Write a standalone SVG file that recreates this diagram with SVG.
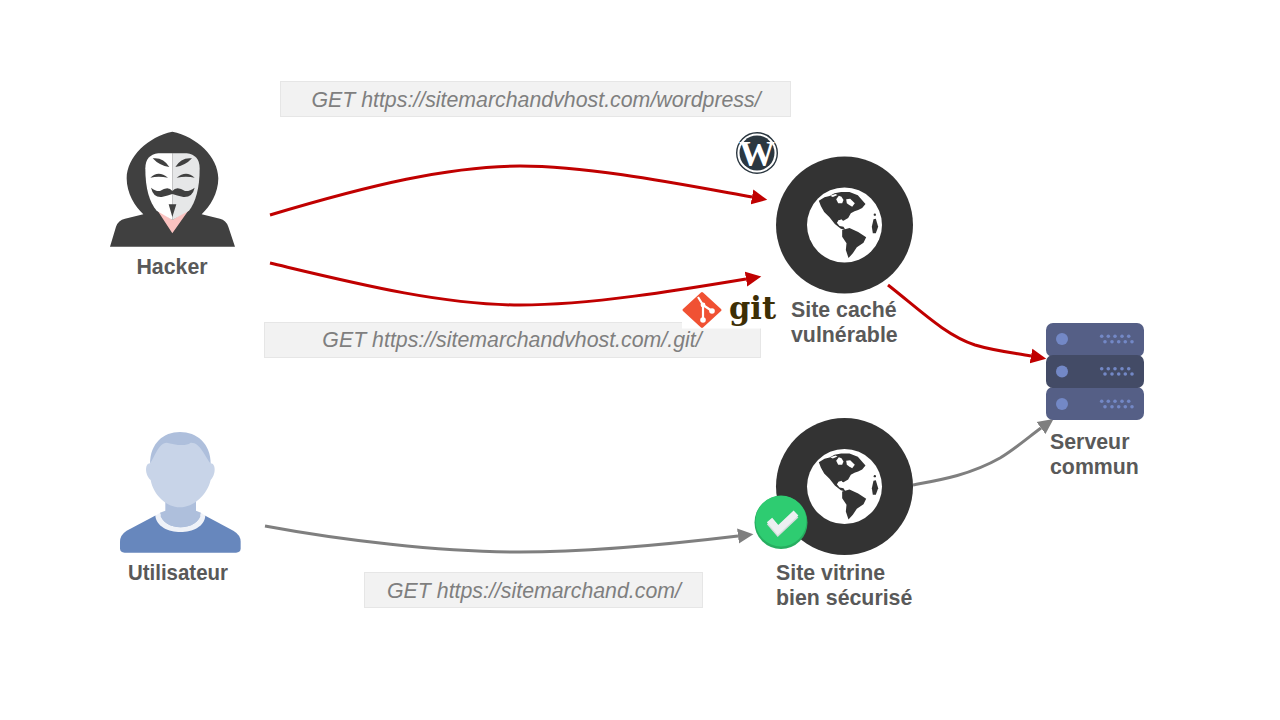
<svg xmlns="http://www.w3.org/2000/svg" width="1280" height="720" viewBox="0 0 1280 720">
<style>
.lbl{font-family:"Liberation Sans",Arial,sans-serif;font-weight:700;font-size:21.33px;fill:#595959}
.req{font-family:"Liberation Sans",Arial,sans-serif;font-style:italic;font-size:21.33px;fill:#7f7f7f;text-anchor:middle}
.box{fill:#f2f2f2;stroke:#e6e6e6;stroke-width:1}
.red{fill:none;stroke:#c00000;stroke-width:3;marker-end:url(#mr)}
.gry{fill:none;stroke:#7f7f7f;stroke-width:3;marker-end:url(#mg)}
.srvdot{fill:#7388c6}
</style>
<defs>
<marker id="mr" markerUnits="userSpaceOnUse" markerWidth="17" markerHeight="16" refX="0" refY="8" orient="auto"><path d="M0,0.500L15.500,8L0,15.500Z" fill="#c00000"/></marker>
<marker id="mg" markerUnits="userSpaceOnUse" markerWidth="17" markerHeight="16" refX="0" refY="8" orient="auto"><path d="M0,0.500L15.500,8L0,15.500Z" fill="#7f7f7f"/></marker>
<g id="globe">
<circle r="68.500" fill="#333"/>
<circle r="37.500" fill="#fff"/>
<g transform="scale(.3333) translate(-135,-135)">
<path fill="#333" d="M58,62L75,52L90,48L105,40L125,36L150,36L175,46L198,72L188,84L176,90L165,94L154,100L146,114L132,122L118,120L112,128L120,138L132,140L138,150L124,146L106,132L90,112L74,96L64,78Z"/>
<path fill="#fff" d="M110,58L118,47L126,50L132,60L128,70L116,70Z"/>
<path fill="#fff" d="M140,58L152,56L166,70L158,80L148,74L142,70Z"/>
<path fill="#fff" d="M92,47L108,42L114,45L100,51Z"/>
<path fill="#fff" d="M116,122L126,118L132,126L124,132Z"/>
<path fill="#333" d="M128,150L150,144L176,156L200,172L192,188L172,202L160,220L147,234L139,210L141,190L128,170Z"/>
<path fill="#333" d="M222,118L229,116L236,140L229,160L220,160L217,140Z"/>
<circle fill="#333" cx="226" cy="104" r="3.500"/>
</g>
</g>
</defs>
<rect width="1280" height="720" fill="#fff"/>
<g id="request-boxes">
<g id="req-wordpress"><rect class="box" x="280.500" y="81.500" width="510" height="35"/><text class="req" x="536" y="107">GET https://sitemarchandvhost.com/wordpress/</text></g>
<g id="req-git"><rect class="box" x="264.500" y="322.500" width="496" height="35"/><text class="req" x="512" y="347">GET https://sitemarchandvhost.com/.git/</text></g>
<g id="req-vitrine"><rect class="box" x="364.500" y="572.500" width="338" height="35"/><text class="req" x="534" y="598">GET https://sitemarchand.com/</text></g>
</g>
<g id="connectors">
<path class="red" d="M270,215C370,185 450,166 520,166C590,166 680,184 752,197"/>
<path class="red" d="M270,263C350,282 440,305 520,305C590,305 680,290 746,279"/>
<path class="red" d="M888,285C920,310 945,335 975,345C995,351 1015,353 1031,356"/>
<path class="gry" d="M265,526C340,540 440,552 520,552C600,552 680,543 738,536"/>
<path class="gry" d="M913,485C940,480 970,475 1000,458C1015,449 1030,436 1041,428"/>
</g>
<g id="hacker">
<g transform="translate(100,120) scale(.3333)">
<path fill="#404040" d="M217,35C290,50 355,110 355,175C355,220 330,260 305,283L360,296Q378,300 385,320L405,380L30,380L48,320Q55,300 75,296L130,283C105,260 80,220 80,175C80,110 145,50 217,35Z"/>
</g>
<g transform="translate(140,145) scale(.3333)">
<path fill="#fbc2c0" d="M48,190L97,265L150,190L97,225Z"/>
<path fill="#fff" d="M97,25L55,25Q16,30 16,70C16,130 28,172 50,197L97,225Z"/>
<path fill="#e6e7e8" d="M97,25L140,25Q179,30 179,70C179,130 167,172 147,197L97,225Z"/>
<path fill="#404040" d="M38,40Q70,36 88,66Q58,62 38,40ZM156,40Q124,36 106,66Q136,62 156,40ZM31,98Q55,74 84,98Q55,92 31,98ZM110,98Q139,74 164,98Q139,92 110,98ZM33,128Q48,140 60,138Q85,122 97,138Q110,122 135,138Q148,140 164,128Q157,158 130,156Q110,152 97,147Q85,152 65,156Q40,158 33,128ZM86,178H109L97,216Z"/>
</g>
<text class="lbl" x="172" y="274" text-anchor="middle">Hacker</text>
</g>
<g id="utilisateur">
<g transform="translate(100,420) scale(.3333)">
<path fill="#aebfdc" d="M150,132C150,70 190,36 240,36C290,36 332,70 332,132Z"/>
<path fill="#6787bd" d="M165,287L80,332Q60,345 60,365V385Q60,398 74,398H408Q422,398 422,385V365Q422,345 400,332L316,287Z"/>
<path fill="#aebfdc" d="M196,240V272L180,278C186,336 298,336 303,278L288,272V240Z"/>
<path fill="#eff2f8" d="M166,287L180,278C186,336 298,336 303,278L316,287C312,352 172,352 166,287Z"/>
<path fill="#c8d4e8" d="M150,130C165,110 175,70 200,68C220,72 255,82 272,68C300,66 315,110 332,130C348,130 348,165 332,180C322,225 280,262 240,262C200,262 160,225 152,180C134,165 134,130 150,130Z"/>
</g>
<text class="lbl" x="178" y="580" text-anchor="middle" textLength="100" lengthAdjust="spacingAndGlyphs">Utilisateur</text>
</g>
<g id="site-cache">
<use href="#globe" x="844.500" y="225"/>
<g id="wordpress-logo">
<circle cx="757" cy="153" r="20.300" fill="#fff" stroke="#2b3740" stroke-width="1.400"/>
<circle cx="757" cy="153" r="17.500" fill="#2b3740"/>
<text x="757" y="165.500" text-anchor="middle" font-family="Liberation Serif,serif" font-weight="700" font-size="36" fill="#fff">W</text>
</g>
<g id="git-logo">
<rect x="682" y="292" width="79" height="36.500" fill="#fff"/>
<path fill="#f05133" stroke="#f05133" stroke-width="3" stroke-linejoin="round" d="M702,293.500L720,310L702,326.500L684,310Z"/>
<path d="M698,297L703,305V320M703,305L712,311" stroke="#fff" stroke-width="2.200" fill="none"/>
<circle cx="703" cy="305" r="2.400" fill="#fff"/><circle cx="703" cy="320" r="2.800" fill="#fff"/><circle cx="712" cy="311" r="2.800" fill="#fff"/>
<text x="729" y="319" font-family="DejaVu Serif,serif" font-weight="700" font-size="32" fill="#3d2e05" textLength="47" lengthAdjust="spacingAndGlyphs">git</text>
</g>
<text class="lbl" x="791" y="316.500">Site caché</text>
<text class="lbl" x="791" y="342">vulnérable</text>
</g>
<g id="site-vitrine">
<use href="#globe" x="844.500" y="486.500"/>
<g id="check-badge">
<circle cx="781" cy="522.500" r="26.500" fill="#27ae60"/>
<circle cx="781" cy="521" r="25.500" fill="#2ecc71"/>
<path d="M769.500,522L778,532L796,515" stroke="#d5dcdc" stroke-width="7" fill="none"/>
<path d="M769.500,520L778,530L796,513" stroke="#ecf0f1" stroke-width="7" fill="none"/>
</g>
<text class="lbl" x="776" y="580">Site vitrine</text>
<text class="lbl" x="776" y="605">bien sécurisé</text>
</g>
<g id="serveur">
<rect x="1046" y="323" width="98" height="34" rx="7" fill="#555f86"/>
<rect x="1046" y="387" width="98" height="33" rx="7" fill="#555f86"/>
<rect x="1046" y="355" width="98" height="33" rx="7" fill="#434b66"/>
<circle class="srvdot" cx="1062" cy="339" r="6"/><circle class="srvdot" cx="1062" cy="371.500" r="6"/><circle class="srvdot" cx="1062" cy="404" r="6"/>
<g class="srvdot">
<circle cx="1101.700" cy="336.300" r="1.800"/><circle cx="1108.300" cy="336.300" r="1.800"/><circle cx="1115" cy="336.300" r="1.800"/><circle cx="1122" cy="336.300" r="1.800"/><circle cx="1128.700" cy="336.300" r="1.800"/>
<circle cx="1105" cy="341.700" r="1.800"/><circle cx="1112" cy="341.700" r="1.800"/><circle cx="1118.700" cy="341.700" r="1.800"/><circle cx="1125.300" cy="341.700" r="1.800"/><circle cx="1132" cy="341.700" r="1.800"/>
<circle cx="1101.700" cy="368.700" r="1.800"/><circle cx="1108.300" cy="368.700" r="1.800"/><circle cx="1115" cy="368.700" r="1.800"/><circle cx="1122" cy="368.700" r="1.800"/><circle cx="1128.700" cy="368.700" r="1.800"/>
<circle cx="1105" cy="374" r="1.800"/><circle cx="1112" cy="374" r="1.800"/><circle cx="1118.700" cy="374" r="1.800"/><circle cx="1125.300" cy="374" r="1.800"/><circle cx="1132" cy="374" r="1.800"/>
<circle cx="1101.700" cy="401.300" r="1.800"/><circle cx="1108.300" cy="401.300" r="1.800"/><circle cx="1115" cy="401.300" r="1.800"/><circle cx="1122" cy="401.300" r="1.800"/><circle cx="1128.700" cy="401.300" r="1.800"/>
<circle cx="1105" cy="406.700" r="1.800"/><circle cx="1112" cy="406.700" r="1.800"/><circle cx="1118.700" cy="406.700" r="1.800"/><circle cx="1125.300" cy="406.700" r="1.800"/><circle cx="1132" cy="406.700" r="1.800"/>
</g>
<text class="lbl" x="1050" y="449">Serveur</text>
<text class="lbl" x="1050" y="474">commun</text>
</g>
</svg>
